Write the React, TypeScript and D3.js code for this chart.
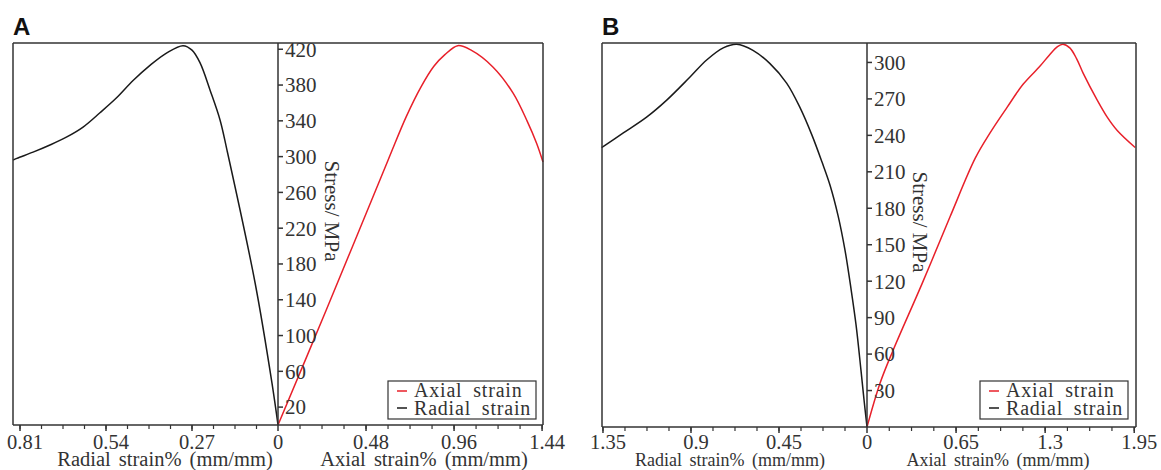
import * as d3 from "d3";

// panel A: radial strain (left half) and axial strain (right half) vs stress
const radialStrainA = [0, 0.019, 0.072, 0.16, 0.182, 0.213, 0.245, 0.27, 0.298, 0.349, 0.402, 0.455, 0.506, 0.559, 0.612, 0.663, 0.716, 0.769, 0.82, 0.832];
const radialStressA = [0, 47, 159, 307, 341, 374, 405, 419, 424, 416, 402, 385, 366, 349, 333, 322, 313, 305, 298, 296];
const axialStrainA = [0, 0.262, 0.6, 0.7, 0.78, 0.85, 0.91, 0.98, 1.053, 1.173, 1.282, 1.358, 1.41, 1.445];
const axialStressA = [0, 128, 296, 345, 378, 401, 414, 424, 419, 400, 371, 340, 315, 294];

// panel B
const radialStrainB = [0, 0.015, 0.031, 0.056, 0.082, 0.113, 0.148, 0.189, 0.23, 0.281, 0.343, 0.411, 0.496, 0.583, 0.666, 0.735, 0.82, 0.905, 1.024, 1.127, 1.246, 1.357];
const radialStressB = [0, 22, 47, 84, 114, 146, 174, 199, 218, 240, 263, 283, 299, 310, 315, 312, 302, 288, 269, 255, 242, 230];
const axialStrainB = [0, 0.095, 0.19, 0.402, 0.606, 0.789, 0.898, 1.022, 1.139, 1.263, 1.33, 1.39, 1.43, 1.48, 1.53, 1.578, 1.68, 1.753, 1.826, 1.957];
const axialStressB = [0, 36, 63, 118, 173, 221, 242, 263, 282, 297, 306, 313, 315, 312, 303, 291, 269, 255, 244, 230];

const radialTicksA = [0.27, 0.54, 0.81];
const axialTicksA = [0.48, 0.96, 1.44];
const stressTicksA = d3.range(20, 421, 40);
const radialTicksB = [0.45, 0.9, 1.35];
const axialTicksB = [0.65, 1.3, 1.95];
const stressTicksB = d3.range(30, 301, 30);

const serif = "'Liberation Serif', 'Times New Roman', serif";
const ink = "#333";
const red = "#e8202a";

type PanelProps = {
  letter: string;
  left: number;
  right: number;
  axisX: number;
  top: number;
  bottom: number;
  radialMax: number;
  axialMax: number;
  stressMax: number;
  radialTicks: number[];
  axialTicks: number[];
  stressTicks: number[];
  radialStrain: number[];
  radialStress: number[];
  axialStrain: number[];
  axialStress: number[];
  titleSize: number;
  radialTitleX: number;
  axialTitleX: number;
  stressLabelX: number;
  stressLabelY: number;
  legendX: number;
};

function Panel(p: PanelProps) {
  const y = d3.scaleLinear().domain([0, p.stressMax]).range([p.bottom, p.top]);
  const xr = d3.scaleLinear().domain([0, p.radialMax]).range([p.axisX, p.left]);
  const xa = d3.scaleLinear().domain([0, p.axialMax]).range([p.axisX, p.right]);

  const line = (xs: d3.ScaleLinear<number, number>) =>
    d3
      .line<[number, number]>()
      .x((d) => xs(d[0]))
      .y((d) => y(d[1]))
      .curve(d3.curveCatmullRom.alpha(0.5));

  const radialPath = line(xr)(p.radialStrain.map((s, i) => [s, p.radialStress[i]]));
  const axialPath = line(xa)(p.axialStrain.map((s, i) => [s, p.axialStress[i]]));

  const rStep = p.radialTicks[0] / 4;
  const aStep = p.axialTicks[0] / 4;
  const rMinor = d3.range(rStep, p.radialMax + 1e-6, rStep);
  const aMinor = d3.range(aStep, p.axialMax + 1e-6, aStep);

  const labelY = 449;

  return (
    <g>
      <text x={p.left} y={35} fontFamily="'Liberation Sans', Arial, sans-serif" fontWeight="bold" fontSize={24} fill="#111">
        {p.letter}
      </text>

      <path d={radialPath ?? ""} fill="none" stroke="#1a1a1a" strokeWidth={1.5} />
      <path d={axialPath ?? ""} fill="none" stroke={red} strokeWidth={1.5} />

      {/* frame */}
      <line x1={p.left} x2={p.right} y1={p.top} y2={p.top} stroke={ink} strokeWidth={1.5} />
      <line x1={p.left} x2={p.left} y1={p.top} y2={p.bottom} stroke={ink} strokeWidth={1.5} />
      <line x1={p.right} x2={p.right} y1={p.top} y2={p.bottom} stroke={ink} strokeWidth={1.5} />
      <line x1={p.left} x2={p.right} y1={p.bottom} y2={p.bottom} stroke={ink} strokeWidth={1.5} />
      <line x1={p.axisX} x2={p.axisX} y1={p.top} y2={p.bottom} stroke={ink} strokeWidth={1.5} />

      {/* x ticks */}
      {rMinor.map((v) => (
        <line key={"rm" + v} x1={xr(v)} x2={xr(v)} y1={p.bottom} y2={p.bottom + 4} stroke={ink} strokeWidth={1.2} />
      ))}
      {aMinor.map((v) => (
        <line key={"am" + v} x1={xa(v)} x2={xa(v)} y1={p.bottom} y2={p.bottom + 4} stroke={ink} strokeWidth={1.2} />
      ))}
      {[0, ...p.radialTicks].map((v) => (
        <g key={"r" + v}>
          <line x1={xr(v)} x2={xr(v)} y1={p.bottom} y2={p.bottom + 6} stroke={ink} strokeWidth={1.5} />
          <text x={xr(v) + (v === 0 ? 0 : 5)} y={labelY} textAnchor="middle" fontFamily={serif} fontSize={20.5} fill={ink}>
            {String(v)}
          </text>
        </g>
      ))}
      {p.axialTicks.map((v) => (
        <g key={"a" + v}>
          <line x1={xa(v)} x2={xa(v)} y1={p.bottom} y2={p.bottom + 6} stroke={ink} strokeWidth={1.5} />
          <text x={xa(v) + 5} y={labelY} textAnchor="middle" fontFamily={serif} fontSize={20.5} fill={ink}>
            {String(v)}
          </text>
        </g>
      ))}

      {/* y ticks */}
      {p.stressTicks.map((v) => (
        <g key={"s" + v}>
          <line x1={p.axisX} x2={p.axisX + 5} y1={y(v)} y2={y(v)} stroke={ink} strokeWidth={1.5} />
          <text x={p.axisX + 7} y={y(v)} dy="0.35em" fontFamily={serif} fontSize={21} fill={ink}>
            {String(v)}
          </text>
        </g>
      ))}

      <text
        x={p.stressLabelX}
        y={p.stressLabelY}
        transform={`rotate(90 ${p.stressLabelX} ${p.stressLabelY})`}
        textAnchor="middle"
        dy="0.35em"
        fontFamily={serif}
        fontSize={21}
        fill={ink}
      >
        Stress/ MPa
      </text>

      <text x={p.radialTitleX} y={466} textAnchor="middle" fontFamily={serif} fontSize={p.titleSize} wordSpacing={3} fill={ink}>
        Radial strain% (mm/mm)
      </text>
      <text x={p.axialTitleX} y={466} textAnchor="middle" fontFamily={serif} fontSize={p.titleSize} wordSpacing={3} fill={ink}>
        Axial strain% (mm/mm)
      </text>

      {/* legend */}
      <rect x={p.legendX} y={381} width={148} height={38} fill="#fff" stroke={ink} strokeWidth={1.2} />
      <line x1={p.legendX + 9} x2={p.legendX + 19} y1={391} y2={391} stroke={red} strokeWidth={1.5} />
      <line x1={p.legendX + 9} x2={p.legendX + 19} y1={408} y2={408} stroke="#1a1a1a" strokeWidth={1.5} />
      <text x={p.legendX + 26} y={397} fontFamily={serif} fontSize={20} letterSpacing={0.8} wordSpacing={5} fill={ink}>
        Axial strain
      </text>
      <text x={p.legendX + 26} y={415} fontFamily={serif} fontSize={20} letterSpacing={0.8} wordSpacing={5} fill={ink}>
        Radial strain
      </text>
    </g>
  );
}

export default function App() {
  return (
    <svg
      width={1161}
      height={470}
      style={{ position: "absolute", left: 0, top: 0, background: "#fff" }}
    >
      <rect width={1161} height={470} fill="#fff" />
      <Panel
        letter="A"
        left={13}
        right={543}
        axisX={278}
        top={43}
        bottom={425}
        radialMax={0.832}
        axialMax={1.445}
        stressMax={427}
        radialTicks={radialTicksA}
        axialTicks={axialTicksA}
        stressTicks={stressTicksA}
        radialStrain={radialStrainA}
        radialStress={radialStressA}
        axialStrain={axialStrainA}
        axialStress={axialStressA}
        titleSize={20.5}
        radialTitleX={165}
        axialTitleX={424}
        stressLabelX={332}
        stressLabelY={211}
        legendX={388}
      />
      <Panel
        letter="B"
        left={602}
        right={1136}
        axisX={867}
        top={43}
        bottom={427}
        radialMax={1.355}
        axialMax={1.963}
        stressMax={316}
        radialTicks={radialTicksB}
        axialTicks={axialTicksB}
        stressTicks={stressTicksB}
        radialStrain={radialStrainB}
        radialStress={radialStressB}
        axialStrain={axialStrainB}
        axialStress={axialStressB}
        titleSize={18}
        radialTitleX={730}
        axialTitleX={998}
        stressLabelX={920}
        stressLabelY={222}
        legendX={980}
      />
    </svg>
  );
}
